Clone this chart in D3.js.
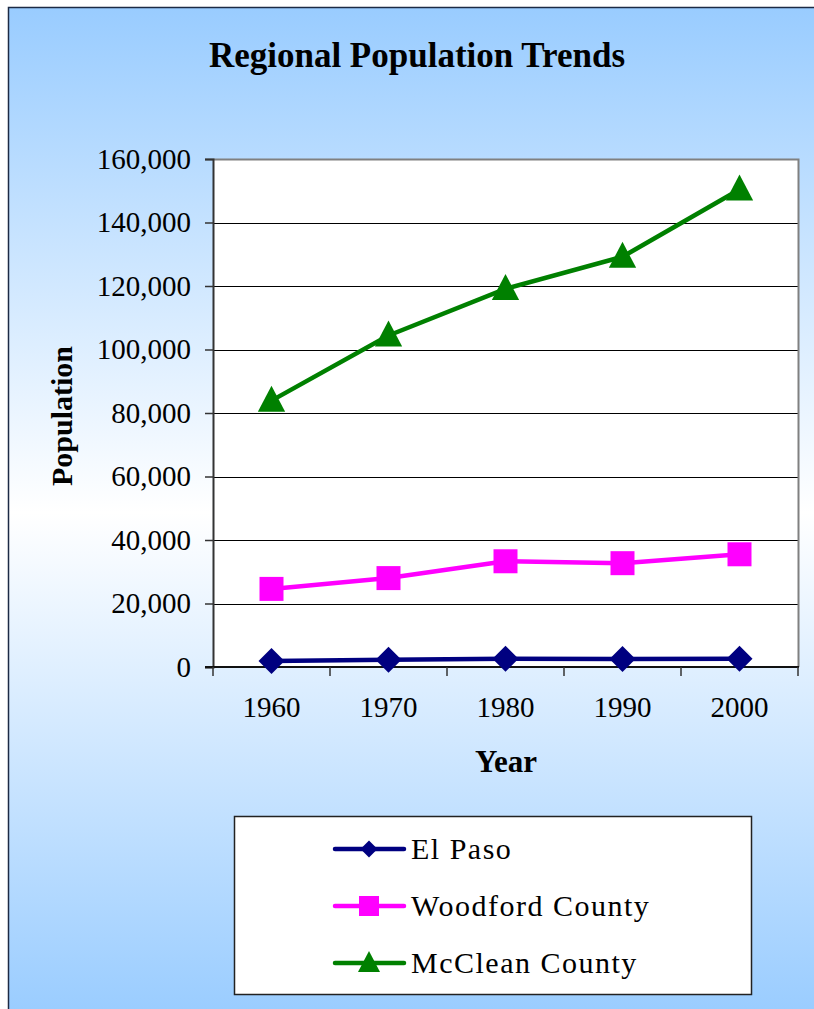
<!DOCTYPE html>
<html>
<head>
<meta charset="utf-8">
<script src="https://cdn.jsdelivr.net/npm/d3@7"></script>
<style>
html,body{margin:0;padding:0;background:#fff;}
svg{display:block;}
text{font-family:"Liberation Serif","Times New Roman",serif;}
</style>
</head>
<body>
<svg id="chart" width="814" height="1009"></svg>
<script>
const years = ["1960","1970","1980","1990","2000"];
const elPaso = [1900, 2300, 2600, 2500, 2600];
const woodford = [24600, 28000, 33300, 32700, 35500];
const mcclean = [83900, 104400, 119100, 129200, 150400];
const yTicks = [0,20000,40000,60000,80000,100000,120000,140000,160000];
const seriesNames = ["El Paso","Woodford County","McClean County"];
const seriesColors = ["#000080","#FF00FF","#008000"];
const seriesShapes = ["diamond","square","triangle"];

const series = [elPaso, woodford, mcclean].map((v,i)=>({name:seriesNames[i], values:v, color:seriesColors[i], shape:seriesShapes[i]}));

const svg = d3.select("#chart");
const defs = svg.append("defs");
const grad = defs.append("linearGradient").attr("id","bg").attr("x1",0).attr("y1",0).attr("x2",0).attr("y2",1);
grad.append("stop").attr("offset","0%").attr("stop-color","#99CCFF");
grad.append("stop").attr("offset","50%").attr("stop-color","#FFFFFF");
grad.append("stop").attr("offset","100%").attr("stop-color","#99CCFF");

svg.append("rect").attr("x",8.5).attr("y",7.5).attr("width",820).attr("height",1010)
  .attr("fill","url(#bg)").attr("stroke","#1c2a44").attr("stroke-width",1.5);

const m = {left:213, top:159, right:798, bottom:667};
const x = d3.scaleBand().domain(years).range([m.left, m.right]);
const y = d3.scaleLinear().domain([0,160000]).range([m.bottom, m.top]);

// plot area
svg.append("rect").attr("x",m.left).attr("y",m.top).attr("width",m.right-m.left).attr("height",m.bottom-m.top)
  .attr("fill","#fff");

// gridlines
svg.append("g").selectAll("line").data(yTicks.slice(1,-1)).join("line")
  .attr("x1",m.left).attr("x2",m.right)
  .attr("y1",d=>Math.round(y(d))+0.5).attr("y2",d=>Math.round(y(d))+0.5)
  .attr("stroke","#000").attr("stroke-width",1);

// plot border top/right
svg.append("path").attr("d",`M${m.left},${m.top+0.5}H${m.right+0.5}V${m.bottom}`)
  .attr("fill","none").attr("stroke","#808080").attr("stroke-width",2);

// y axis
const yAxis = d3.axisLeft(y).tickValues(yTicks).tickSize(8).tickPadding(14).tickFormat(d3.format(","));
const gy = svg.append("g").attr("transform",`translate(${m.left},0)`).call(yAxis);
gy.attr("font-family",null).attr("font-size",null);
gy.select(".domain").attr("stroke","#333").attr("stroke-width",2);
gy.selectAll(".tick line").attr("stroke","#333").attr("stroke-width",1.5);
gy.selectAll(".tick text").attr("font-size",29).attr("fill","#000");

// x axis
const gx = svg.append("g").attr("transform",`translate(0,${m.bottom})`);
gx.append("line").attr("x1",m.left-8).attr("x2",m.right+1).attr("y1",0).attr("y2",0).attr("stroke","#111").attr("stroke-width",2);
const bounds = years.map(d=>x(d)).concat([m.right]);
gx.selectAll("line.t").data(bounds).join("line").attr("class","t")
  .attr("x1",d=>d).attr("x2",d=>d).attr("y1",0).attr("y2",9).attr("stroke","#333").attr("stroke-width",1.5);
gx.selectAll("text").data(years).join("text")
  .attr("x",d=>x(d)+x.bandwidth()/2).attr("y",50).attr("text-anchor","middle")
  .attr("font-size",29).attr("fill","#000").text(d=>d);

// axis titles
svg.append("text").attr("x",417).attr("y",67).attr("text-anchor","middle")
  .attr("font-size",35).attr("font-weight","bold").text("Regional Population Trends");
svg.append("text").attr("x",506).attr("y",772).attr("text-anchor","middle")
  .attr("font-size",31).attr("font-weight","bold").text("Year");
svg.append("text").attr("transform","translate(72,416) rotate(-90)").attr("text-anchor","middle")
  .attr("font-size",30).attr("font-weight","bold").text("Population");

function symbolPath(shape, s){
  if(shape==="diamond") return `M0,${-s}L${s},0L0,${s}L${-s},0Z`;
  if(shape==="square") return `M${-s},${-s}H${s}V${s}H${-s}Z`;
  return `M0,${-s*1.15}L${s*1.05},${s*0.85}L${-s*1.05},${s*0.85}Z`;
}
const markerSize = {diamond:13, square:12, triangle:13};

const line = d3.line().x((d,i)=>x(years[i])+x.bandwidth()/2).y(d=>y(d));
series.forEach(s=>{
  svg.append("path").datum(s.values).attr("d",line).attr("fill","none")
    .attr("stroke",s.color).attr("stroke-width",4.5).attr("stroke-linejoin","round");
  svg.append("g").selectAll("path").data(s.values).join("path")
    .attr("transform",(d,i)=>`translate(${x(years[i])+x.bandwidth()/2},${y(d)})`)
    .attr("d",symbolPath(s.shape, markerSize[s.shape])).attr("fill",s.color);
});

// legend
const lg = svg.append("g");
lg.append("rect").attr("x",234.5).attr("y",816.5).attr("width",517).attr("height",178)
  .attr("fill","#fff").attr("stroke","#222").attr("stroke-width",1.5);
const legMarker = {diamond:8.5, square:10, triangle:10.5};
series.forEach((s,i)=>{
  const cy = 849 + i*57;
  lg.append("line").attr("x1",335).attr("x2",404).attr("y1",cy).attr("y2",cy)
    .attr("stroke",s.color).attr("stroke-width",4.5).attr("stroke-linecap","round");
  lg.append("path").attr("transform",`translate(369,${cy})`).attr("d",symbolPath(s.shape, legMarker[s.shape])).attr("fill",s.color);
  lg.append("text").attr("x",411).attr("y",cy+10).attr("font-size",30).attr("letter-spacing",1.5).text(s.name);
});
</script>
</body>
</html>
